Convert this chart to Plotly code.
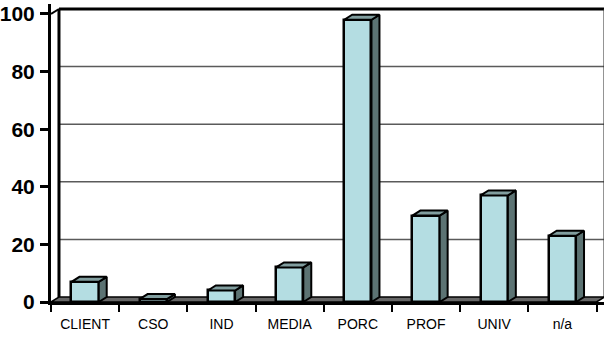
import plotly.graph_objects as go

# Counts per affiliation
categories = ["CLIENT", "CSO", "IND", "MEDIA", "PORC", "PROF", "UNIV", "n/a"]
values = [7, 1, 4, 12, 98, 30, 37, 23]
y_ticks = [0, 20, 40, 60, 80, 100]

# 3-D look: depth offset of the back wall (data units)
DX = 0.117
DY = 1.74
BAR_W = 0.40

FRONT = "#b4dde2"
SIDE = "#5c7373"
TOP = "#819e9f"
FLOOR = "#666666"

xs = list(range(len(categories)))
x_lo, x_hi = -0.5, len(categories) - 0.5

fig = go.Figure()

# front faces
fig.add_trace(go.Bar(
    x=xs, y=values, width=BAR_W,
    marker=dict(color=FRONT, line=dict(color="black", width=2.5)),
    hoverinfo="skip", showlegend=False,
))

# side and top faces of each box
side_x, side_y, top_x, top_y = [], [], [], []
for i, v in zip(xs, values):
    x0, x1 = i - BAR_W / 2, i + BAR_W / 2
    side_x += [x1, x1 + DX, x1 + DX, x1, x1, None]
    side_y += [0, DY, v + DY, v, 0, None]
    top_x += [x0, x1, x1 + DX, x0 + DX, x0, None]
    top_y += [v, v, v + DY, v + DY, v, None]

fig.add_trace(go.Scatter(
    x=side_x, y=side_y, mode="lines", fill="toself", fillcolor=SIDE,
    line=dict(color="black", width=2), hoverinfo="skip", showlegend=False,
))
fig.add_trace(go.Scatter(
    x=top_x, y=top_y, mode="lines", fill="toself", fillcolor=TOP,
    line=dict(color="black", width=2), hoverinfo="skip", showlegend=False,
))

shapes = []
# back wall gridlines
for t in y_ticks[1:-1]:
    shapes.append(dict(type="line", xref="x", yref="y", layer="below",
                       x0=x_lo + DX, x1=x_hi + DX, y0=t + DY, y1=t + DY,
                       line=dict(color="#5a5a5a", width=1.5)))
# back wall top edge
shapes.append(dict(type="line", xref="x", yref="y", layer="below",
                   x0=x_lo + DX, x1=x_hi + DX, y0=y_ticks[-1] + DY, y1=y_ticks[-1] + DY,
                   line=dict(color="black", width=3)))
# back wall left and right edges
shapes.append(dict(type="line", xref="x", yref="y", layer="below",
                   x0=x_lo + DX, x1=x_lo + DX, y0=DY, y1=y_ticks[-1] + DY,
                   line=dict(color="black", width=3)))
shapes.append(dict(type="line", xref="x", yref="y", layer="below",
                   x0=x_hi + DX, x1=x_hi + DX, y0=DY, y1=y_ticks[-1] + DY,
                   line=dict(color="#333333", width=2)))
# top-left joint between front axis and back wall
shapes.append(dict(type="line", xref="x", yref="y", layer="below",
                   x0=x_lo, x1=x_lo + DX, y0=y_ticks[-1], y1=y_ticks[-1] + DY,
                   line=dict(color="black", width=2)))
# floor
shapes.append(dict(type="path", xref="x", yref="y", layer="below",
                   path=f"M {x_lo},0 L {x_hi},0 L {x_hi + DX},{DY} L {x_lo + DX},{DY} Z",
                   fillcolor=FLOOR, line=dict(color="black", width=1.5)))

fig.update_layout(
    width=604, height=337,
    margin=dict(l=48, r=0, t=4, b=35),
    paper_bgcolor="white", plot_bgcolor="white",
    shapes=shapes,
    bargap=0,
    xaxis=dict(
        range=[x_lo, 7.61],
        tickmode="array", tickvals=xs, ticktext=categories,
        ticks="", showgrid=False, zeroline=False,
        showline=True, linecolor="black", linewidth=3,
        tickfont=dict(family="Liberation Sans, Arial", size=14, color="black"),
        ticklabelstandoff=7,
        minor=dict(tickmode="linear", tick0=x_lo, dtick=1, ticks="outside",
                   ticklen=7, tickwidth=2, tickcolor="black", showgrid=False),
        fixedrange=True,
    ),
    yaxis=dict(
        range=[0, 103.47],
        tickmode="array", tickvals=y_ticks,
        ticks="outside", ticklen=8, tickwidth=3, tickcolor="black",
        showgrid=False, zeroline=False,
        showline=True, linecolor="black", linewidth=3,
        tickfont=dict(family="Liberation Sans, Arial", size=21, color="black", weight="bold"),
        ticklabelstandoff=1,
        fixedrange=True,
    ),
)

fig.write_html("out.html", config={"displayModeBar": False})
